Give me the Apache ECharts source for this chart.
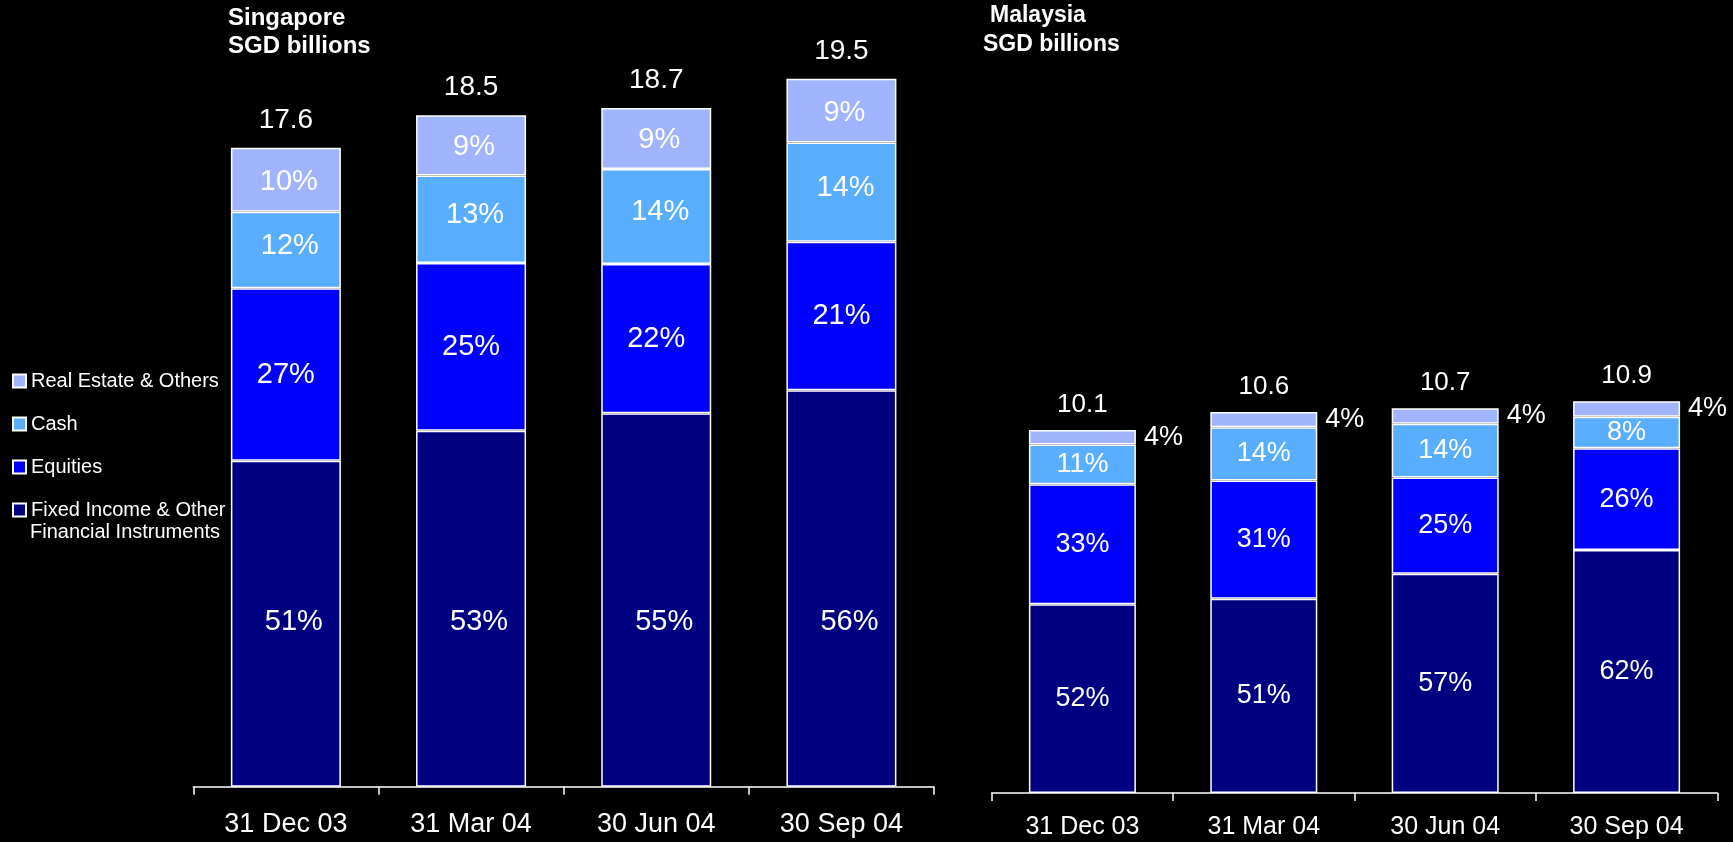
<!DOCTYPE html>
<html>
<head>
<meta charset="utf-8">
<script src="https://cdn.jsdelivr.net/npm/echarts@6/dist/echarts.min.js"></script>
<style>
html,body{margin:0;padding:0;background:#000;}
#c{width:1733px;height:842px;}
</style>
</head>
<body>
<div id="c"></div>
<script>
const categories = ['31 Dec 03', '31 Mar 04', '30 Jun 04', '30 Sep 04'];

const sgTotals = [17.6, 18.5, 18.7, 19.5];
const sgFixed = [51, 53, 55, 56];
const sgEquities = [27, 25, 22, 21];
const sgCash = [12, 13, 14, 14];
const sgRealEstate = [10, 9, 9, 9];

const myTotals = [10.1, 10.6, 10.7, 10.9];
const myFixed = [52, 51, 57, 62];
const myEquities = [33, 31, 25, 26];
const myCash = [11, 14, 14, 8];
const myRealEstate = [4, 4, 4, 4];

const nameFixed = 'Fixed Income & Other Financial Instruments';
const nameEquities = 'Equities';
const nameCash = 'Cash';
const nameRealEstate = 'Real Estate & Others';

const colors = {};
colors[nameFixed] = '#000080';
colors[nameEquities] = '#0000ff';
colors[nameCash] = '#5aaeff';
colors[nameRealEstate] = '#a0b4ff';

const FONT = '"Liberation Sans", Arial, sans-serif';

function build(totals, pcts) {
  return pcts.map((p, i) => ({ value: totals[i] * p / 100, pct: p }));
}

function barSeries(name, totals, pcts, idx, stack, barWidth, fontSize, labelExtra) {
  return {
    type: 'bar',
    name: name,
    stack: stack,
    xAxisIndex: idx,
    yAxisIndex: idx,
    barWidth: barWidth,
    data: build(totals, pcts),
    itemStyle: { color: colors[name], borderColor: '#ffffff', borderWidth: 1.5 },
    label: Object.assign({
      show: true,
      position: 'inside',
      color: '#ffffff',
      fontSize: fontSize,
      fontFamily: FONT,
      formatter: p => p.data.pct + '%'
    }, labelExtra || {}),
    emphasis: { disabled: true },
    silent: true
  };
}

function totalSeries(totals, idx, fontSize, dist) {
  return {
    type: 'scatter',
    xAxisIndex: idx,
    yAxisIndex: idx,
    data: totals,
    symbolSize: 1,
    itemStyle: { color: 'rgba(0,0,0,0)', opacity: 1 },
    label: {
      show: true,
      position: 'top',
      distance: dist,
      color: '#ffffff',
      opacity: 1,
      fontSize: fontSize,
      fontFamily: FONT,
      formatter: p => Number(p.value).toFixed(1)
    },
    emphasis: { disabled: true },
    silent: true,
    z: 5
  };
}

function xAxis(idx, fontSize, margin) {
  return {
    type: 'category',
    gridIndex: idx,
    data: categories,
    boundaryGap: true,
    axisLine: { show: true, lineStyle: { color: '#ffffff', width: 1.5 } },
    axisTick: { show: true, length: 8, lineStyle: { color: '#ffffff', width: 1.5 } },
    axisLabel: { color: '#ffffff', fontSize: fontSize, fontFamily: FONT, margin: margin }
  };
}

const chart = echarts.init(document.getElementById('c'));
chart.setOption({
  backgroundColor: '#000000',
  animation: false,
  title: [
    { text: 'Singapore\nSGD billions', left: 228, top: 4, padding: 0,
      textStyle: { color: '#fff', fontSize: 24, fontWeight: 'bold', fontFamily: FONT, lineHeight: 28 } },
    { text: 'Malaysia', left: 990, top: 2, padding: 0,
      textStyle: { color: '#fff', fontSize: 23, fontWeight: 'bold', fontFamily: FONT, lineHeight: 28 } },
    { text: 'SGD billions', left: 983, top: 31, padding: 0,
      textStyle: { color: '#fff', fontSize: 23, fontWeight: 'bold', fontFamily: FONT, lineHeight: 28 } }
  ],
  legend: {
    orient: 'vertical',
    left: 12,
    top: 370,
    padding: 0,
    itemWidth: 13,
    itemHeight: 13,
    itemGap: 21,
    selectedMode: false,
    icon: 'rect',
    data: [nameRealEstate, nameCash, nameEquities, nameFixed],
    formatter: n => (n === nameFixed ? 'Fixed Income & Other' : n),
    textStyle: { color: '#ffffff', fontSize: 20, lineHeight: 22, fontFamily: FONT }
  },
  graphic: [
    { type: 'text', left: 30, top: 522, silent: true,
      style: { text: 'Financial Instruments', fill: '#ffffff', font: '20px ' + FONT } }
  ],
  grid: [
    { left: 193.3, width: 740.7, top: 60.7, bottom: 55.3, containLabel: false },
    { left: 991.7, width: 725.6, top: 74, bottom: 49, containLabel: false }
  ],
  xAxis: [xAxis(0, 27, 24), xAxis(1, 25, 22)],
  yAxis: [
    { type: 'value', gridIndex: 0, min: 0, max: 20, show: false },
    { type: 'value', gridIndex: 1, min: 0, max: 20, show: false }
  ],
  series: [
    barSeries(nameFixed, sgTotals, sgFixed, 0, 'sg', 110, 29, { position: 'insideBottom', distance: 150, offset: [8, 0] }),
    barSeries(nameEquities, sgTotals, sgEquities, 0, 'sg', 110, 29),
    barSeries(nameCash, sgTotals, sgCash, 0, 'sg', 110, 29, { offset: [4, -4] }),
    barSeries(nameRealEstate, sgTotals, sgRealEstate, 0, 'sg', 110, 29, { offset: [3, 2] }),
    totalSeries(sgTotals, 0, 28, 13),
    barSeries(nameFixed, myTotals, myFixed, 1, 'my', 107, 27),
    barSeries(nameEquities, myTotals, myEquities, 1, 'my', 107, 27),
    barSeries(nameCash, myTotals, myCash, 1, 'my', 107, 27),
    barSeries(nameRealEstate, myTotals, myRealEstate, 1, 'my', 107, 27, { position: 'right', distance: 8 }),
    totalSeries(myTotals, 1, 26, 12)
  ]
});
</script>
</body>
</html>
